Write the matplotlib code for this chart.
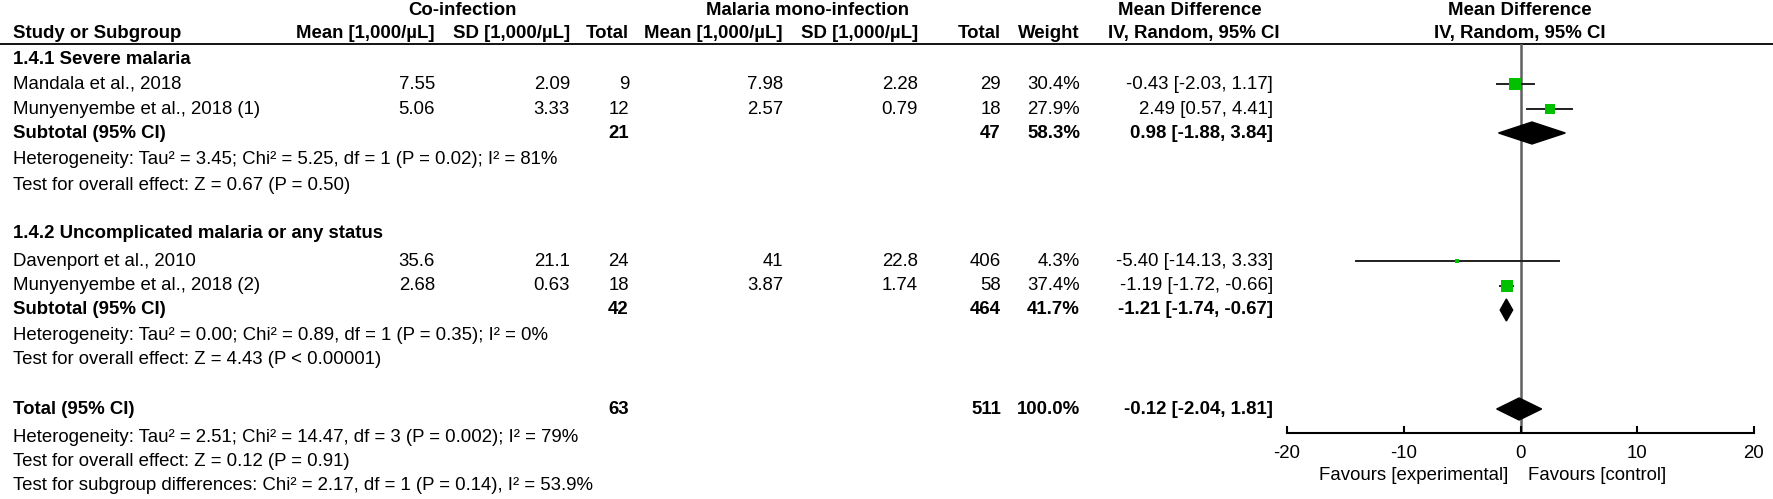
import numpy as np
import matplotlib
matplotlib.use("Agg")
import matplotlib.pyplot as plt
from matplotlib.patches import Polygon

plt.rcParams['font.family'] = ['Liberation Sans', 'DejaVu Sans']

# Study level data
studies = ["Mandala et al., 2018", "Munyenyembe et al., 2018 (1)",
           "Davenport et al., 2010", "Munyenyembe et al., 2018 (2)"]
co_mean = ["7.55", "5.06", "35.6", "2.68"]
co_sd = ["2.09", "3.33", "21.1", "0.63"]
co_n = [9, 12, 24, 18]
mono_mean = ["7.98", "2.57", "41", "3.87"]
mono_sd = ["2.28", "0.79", "22.8", "1.74"]
mono_n = [29, 18, 406, 58]
weights = [30.4, 27.9, 4.3, 37.4]
md = [-0.43, 2.49, -5.40, -1.19]
md_lo = [-2.03, 0.57, -14.13, -1.72]
md_hi = [1.17, 4.41, 3.33, -0.66]

# Subtotals and overall
groups = ["1.4.1 Severe malaria", "1.4.2 Uncomplicated malaria or any status"]
pooled_labels = ["Subtotal (95% CI)", "Subtotal (95% CI)", "Total (95% CI)"]
pooled_co_n = [21, 42, 63]
pooled_mono_n = [47, 464, 511]
pooled_weight = [58.3, 41.7, 100.0]
pooled_md = [0.98, -1.21, -0.12]
pooled_lo = [-1.88, -1.74, -2.04]
pooled_hi = [3.84, -0.67, 1.81]

het_text = ["Heterogeneity: Tau² = 3.45; Chi² = 5.25, df = 1 (P = 0.02); I² = 81%",
            "Heterogeneity: Tau² = 0.00; Chi² = 0.89, df = 1 (P = 0.35); I² = 0%",
            "Heterogeneity: Tau² = 2.51; Chi² = 14.47, df = 3 (P = 0.002); I² = 79%"]
effect_text = ["Test for overall effect: Z = 0.67 (P = 0.50)",
               "Test for overall effect: Z = 4.43 (P < 0.00001)",
               "Test for overall effect: Z = 0.12 (P = 0.91)"]
subgroup_text = "Test for subgroup differences: Chi² = 2.17, df = 1 (P = 0.14), I² = 53.9%"

xticks = [-20, -10, 0, 10, 20]

W, H = 1773, 499
fig = plt.figure(figsize=(W / 100, H / 100), dpi=100)
ax = fig.add_axes([0, 0, 1, 1])
ax.set_xlim(0, W)
ax.set_ylim(H, 0)
ax.axis('off')

fs = 13.4
green = '#00c000'

# row positions (pixels from top)
study_y = [84, 109, 261, 286]
group_y = [59, 233]
pooled_y = [133, 310, 409]
het_y = [160, 335, 437]
effect_y = [185, 359, 461]
subgroup_y = 485

# column right edges
x_study = 13
x_co_mean, x_co_sd, x_co_n = 435, 570, 629
x_mono_mean, x_mono_sd, x_mono_n = 783, 918, 1001
x_weight, x_md = 1080, 1273


def txt(x, y, s, ha='left', bold=False, size=fs):
    ax.text(x, y, s, ha=ha, va='center', fontsize=size,
            fontweight='bold' if bold else 'normal')


# headers
txt(462, 10, "Co-infection", ha='center', bold=True)
txt(808, 10, "Malaria mono-infection", ha='center', bold=True)
txt(1190, 10, "Mean Difference", ha='center', bold=True)
txt(1520, 10, "Mean Difference", ha='center', bold=True)
txt(x_study, 33, "Study or Subgroup", bold=True)
txt(x_co_mean, 33, "Mean [1,000/µL]", ha='right', bold=True)
txt(x_co_sd, 33, "SD [1,000/µL]", ha='right', bold=True)
txt(x_co_n, 33, "Total", ha='right', bold=True)
txt(x_mono_mean, 33, "Mean [1,000/µL]", ha='right', bold=True)
txt(x_mono_sd, 33, "SD [1,000/µL]", ha='right', bold=True)
txt(x_mono_n, 33, "Total", ha='right', bold=True)
txt(x_weight, 33, "Weight", ha='right', bold=True)
txt(1279, 33, "IV, Random, 95% CI", ha='right', bold=True)
txt(1520, 33, "IV, Random, 95% CI", ha='center', bold=True)
ax.plot([0, W], [44, 44], color='black', lw=1.3)

for g, y in zip(groups, group_y):
    txt(x_study, y, g, bold=True)

for i, y in enumerate(study_y):
    txt(x_study, y, studies[i])
    txt(x_co_mean, y, co_mean[i], ha='right')
    txt(x_co_sd, y, co_sd[i], ha='right')
    txt(x_co_n, y, str(co_n[i]), ha='right')
    txt(x_mono_mean, y, mono_mean[i], ha='right')
    txt(x_mono_sd, y, mono_sd[i], ha='right')
    txt(x_mono_n, y, str(mono_n[i]), ha='right')
    txt(x_weight, y, f"{weights[i]:.1f}%", ha='right')
    txt(x_md, y, f"{md[i]:.2f} [{md_lo[i]:.2f}, {md_hi[i]:.2f}]", ha='right')

for i, y in enumerate(pooled_y):
    txt(x_study, y, pooled_labels[i], bold=True)
    txt(x_co_n, y, str(pooled_co_n[i]), ha='right', bold=True)
    txt(x_mono_n, y, str(pooled_mono_n[i]), ha='right', bold=True)
    txt(x_weight, y, f"{pooled_weight[i]:.1f}%", ha='right', bold=True)
    txt(x_md, y, f"{pooled_md[i]:.2f} [{pooled_lo[i]:.2f}, {pooled_hi[i]:.2f}]",
        ha='right', bold=True)

for i in range(3):
    txt(x_study, het_y[i], het_text[i])
    txt(x_study, effect_y[i], effect_text[i])
txt(x_study, subgroup_y, subgroup_text)

# forest plot panel
x0, x1 = 1287, 1754
y_top, y_axis = 44, 433
fax = fig.add_axes([x0 / W, (H - y_axis) / H, (x1 - x0) / W, (y_axis - y_top) / H])
fax.set_xlim(-20, 20)
fax.set_ylim(y_axis, y_top)
fax.patch.set_alpha(0)
for s in ['top', 'left', 'right']:
    fax.spines[s].set_visible(False)
fax.spines['bottom'].set_linewidth(1.5)
fax.set_yticks([])
fax.set_xticks(xticks)
fax.set_xticklabels([str(t) for t in xticks], fontsize=fs)
fax.tick_params(axis='x', direction='in', length=5, width=1.5, pad=9)
fax.axvline(0, color='#606060', lw=1.8, zorder=1)

for i, y in enumerate(study_y):
    fax.plot([md_lo[i], md_hi[i]], [y, y], color='#202020', lw=1.4, zorder=2)
    side = max(2.05 * np.sqrt(weights[i]), 4)
    fax.plot(md[i], y, marker='s', color=green, markersize=side * 0.72,
             markeredgewidth=0, linestyle='none', zorder=3)

for i, y in enumerate(pooled_y):
    dh = 11
    diamond = Polygon([(pooled_lo[i], y), (pooled_md[i], y - dh),
                       (pooled_hi[i], y), (pooled_md[i], y + dh)],
                      closed=True, color='black', zorder=3)
    fax.add_patch(diamond)

txt(1508, 476, "Favours [experimental]", ha='right')
txt(1528, 476, "Favours [control]", ha='left')

fig.savefig("out.png", dpi=100)
